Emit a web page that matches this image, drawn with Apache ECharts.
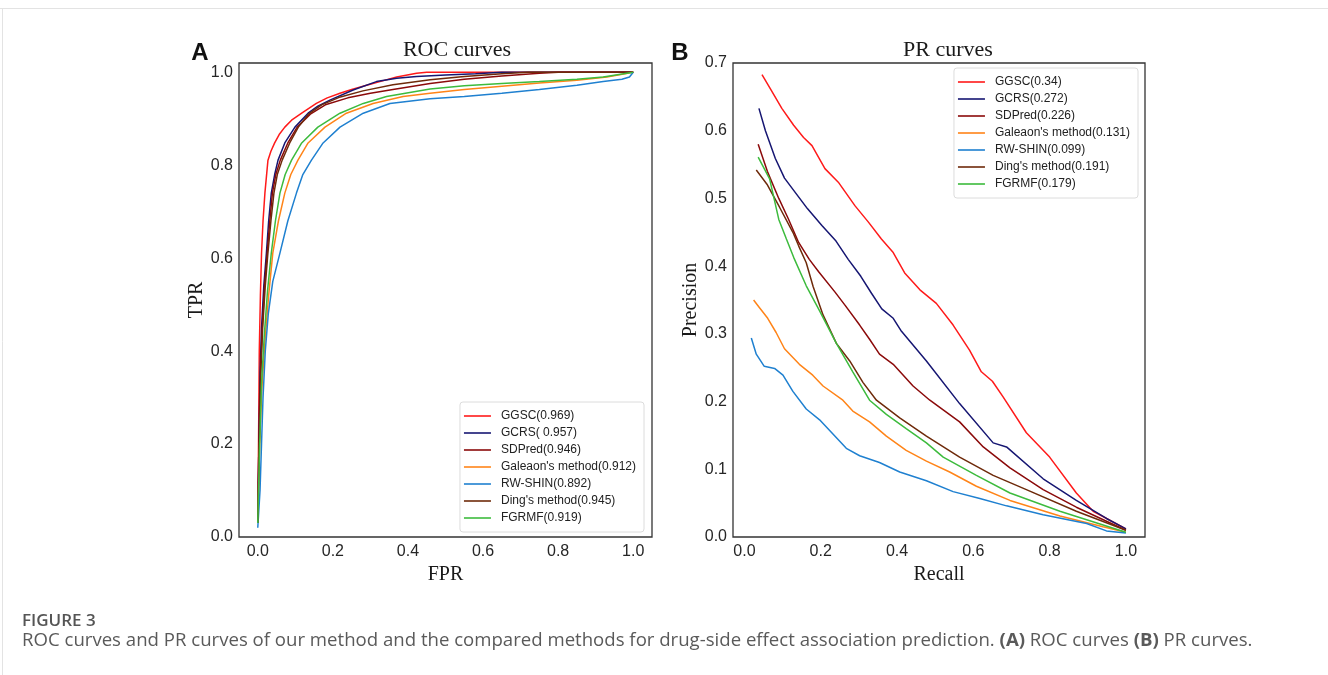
<!DOCTYPE html>
<html>
<head>
<meta charset="utf-8">
<title>ROC and PR curves</title>
<script src="https://cdn.jsdelivr.net/npm/echarts@6/dist/echarts.min.js"></script>
<style>
  html, body { margin: 0; padding: 0; background: #fff; }
  #main { width: 1328px; height: 675px; }
</style>
</head>
<body>
<div id="main"></div>
<script>
// ROC curves: [FPR, TPR]
var rocGGSC = [[0,0.03],[0.002,0.2],[0.004,0.4],[0.007,0.52],[0.01,0.61],[0.014,0.68],[0.019,0.74],[0.027,0.81],[0.035,0.83],[0.045,0.848],[0.057,0.866],[0.072,0.882],[0.09,0.897],[0.117,0.912],[0.156,0.933],[0.185,0.945],[0.219,0.955],[0.25,0.963],[0.29,0.972],[0.33,0.981],[0.37,0.99],[0.423,0.998],[0.45,1.0],[1.0,1.0]];
var rocGCRS = [[0,0.03],[0.003,0.2],[0.006,0.35],[0.01,0.45],[0.016,0.54],[0.023,0.611],[0.029,0.68],[0.036,0.74],[0.045,0.78],[0.054,0.811],[0.072,0.848],[0.099,0.882],[0.134,0.912],[0.16,0.927],[0.192,0.94],[0.254,0.962],[0.316,0.98],[0.37,0.987],[0.423,0.991],[0.5,0.994],[0.58,0.997],[0.65,1.0],[1,1]];
var rocSDPred = [[0,0.03],[0.003,0.2],[0.007,0.35],[0.012,0.45],[0.018,0.54],[0.025,0.611],[0.032,0.68],[0.039,0.74],[0.048,0.78],[0.06,0.811],[0.08,0.848],[0.105,0.882],[0.14,0.91],[0.18,0.93],[0.24,0.945],[0.3,0.955],[0.36,0.963],[0.459,0.976],[0.55,0.985],[0.65,0.992],[0.75,0.998],[0.8,1.0],[1,1]];
var rocGaleaon = [[0,0.03],[0.005,0.2],[0.011,0.32],[0.019,0.42],[0.029,0.52],[0.04,0.611],[0.055,0.68],[0.072,0.74],[0.088,0.78],[0.107,0.811],[0.134,0.848],[0.179,0.882],[0.236,0.912],[0.307,0.933],[0.387,0.948],[0.459,0.955],[0.55,0.963],[0.65,0.97],[0.75,0.977],[0.85,0.983],[0.93,0.99],[1,1]];
var rocRWSHIN = [[0,0.02],[0.006,0.1],[0.01,0.2],[0.014,0.3],[0.02,0.4],[0.028,0.48],[0.04,0.55],[0.059,0.611],[0.08,0.68],[0.103,0.74],[0.12,0.78],[0.143,0.811],[0.174,0.848],[0.219,0.882],[0.281,0.912],[0.352,0.933],[0.459,0.943],[0.55,0.948],[0.65,0.955],[0.75,0.963],[0.85,0.972],[0.92,0.98],[0.97,0.985],[0.99,0.99],[1,1]];
var rocDing = [[0,0.03],[0.004,0.2],[0.008,0.35],[0.013,0.45],[0.02,0.54],[0.027,0.611],[0.035,0.68],[0.043,0.74],[0.052,0.78],[0.065,0.811],[0.085,0.848],[0.108,0.882],[0.135,0.91],[0.17,0.93],[0.22,0.947],[0.28,0.96],[0.36,0.973],[0.459,0.984],[0.55,0.991],[0.65,0.997],[0.72,1.0],[1,1]];
var rocFGRMF = [[0,0.03],[0.005,0.2],[0.01,0.33],[0.017,0.43],[0.026,0.53],[0.036,0.611],[0.047,0.68],[0.059,0.74],[0.073,0.78],[0.09,0.811],[0.117,0.848],[0.16,0.882],[0.219,0.912],[0.281,0.933],[0.343,0.948],[0.459,0.964],[0.55,0.971],[0.65,0.976],[0.75,0.98],[0.85,0.985],[0.92,0.99],[1,1]];

// PR curves: [Recall, Precision]
var prGGSC = [[0.046,0.683],[0.07,0.66],[0.098,0.633],[0.129,0.608],[0.155,0.59],[0.177,0.578],[0.211,0.544],[0.246,0.524],[0.29,0.489],[0.325,0.465],[0.359,0.44],[0.39,0.42],[0.42,0.39],[0.46,0.365],[0.503,0.345],[0.547,0.313],[0.59,0.276],[0.621,0.244],[0.65,0.23],[0.678,0.207],[0.739,0.154],[0.8,0.118],[0.87,0.065],[0.914,0.038],[1.0,0.012]];
var prGCRS = [[0.038,0.633],[0.055,0.6],[0.081,0.559],[0.105,0.53],[0.133,0.509],[0.165,0.485],[0.203,0.46],[0.24,0.437],[0.272,0.41],[0.305,0.385],[0.333,0.36],[0.36,0.337],[0.39,0.323],[0.41,0.305],[0.477,0.26],[0.564,0.197],[0.652,0.139],[0.687,0.133],[0.783,0.086],[0.87,0.054],[0.95,0.027],[1.0,0.012]];
var prSDPred = [[0.036,0.58],[0.06,0.54],[0.09,0.5],[0.115,0.47],[0.142,0.435],[0.17,0.41],[0.194,0.392],[0.237,0.362],[0.264,0.342],[0.302,0.313],[0.328,0.292],[0.354,0.27],[0.39,0.255],[0.442,0.223],[0.486,0.202],[0.564,0.17],[0.626,0.133],[0.696,0.102],[0.783,0.07],[0.87,0.044],[1.0,0.01]];
var prGaleaon = [[0.024,0.35],[0.039,0.339],[0.061,0.323],[0.083,0.302],[0.105,0.278],[0.144,0.255],[0.179,0.239],[0.206,0.223],[0.258,0.202],[0.284,0.186],[0.328,0.17],[0.372,0.149],[0.424,0.128],[0.477,0.112],[0.538,0.096],[0.608,0.075],[0.696,0.054],[0.827,0.031],[0.94,0.015],[1.0,0.007]];
var prRWSHIN = [[0.018,0.294],[0.031,0.27],[0.052,0.252],[0.079,0.249],[0.101,0.239],[0.127,0.215],[0.162,0.189],[0.197,0.173],[0.232,0.152],[0.267,0.131],[0.302,0.12],[0.354,0.11],[0.407,0.096],[0.477,0.083],[0.547,0.067],[0.617,0.057],[0.687,0.046],[0.783,0.033],[0.897,0.02],[0.949,0.009],[1.0,0.006]];
var prDing = [[0.031,0.542],[0.059,0.521],[0.092,0.487],[0.127,0.45],[0.142,0.43],[0.162,0.405],[0.18,0.37],[0.206,0.328],[0.241,0.286],[0.276,0.26],[0.311,0.228],[0.346,0.202],[0.407,0.176],[0.477,0.149],[0.564,0.118],[0.652,0.091],[0.739,0.07],[0.87,0.038],[1.0,0.01]];
var prFGRMF = [[0.036,0.561],[0.066,0.529],[0.09,0.469],[0.11,0.44],[0.129,0.413],[0.162,0.371],[0.197,0.334],[0.241,0.286],[0.284,0.244],[0.328,0.202],[0.372,0.181],[0.424,0.16],[0.477,0.139],[0.521,0.118],[0.608,0.091],[0.696,0.065],[0.827,0.038],[1.0,0.007]];

var methodColors = ['#ff1a1a', '#161672', '#8b0a0a', '#ff8418', '#1f80d0', '#6e2a0a', '#3dbb3d'];
var rocNames = ['GGSC(0.969)', 'GCRS( 0.957)', 'SDPred(0.946)', "Galeaon's method(0.912)", 'RW-SHIN(0.892)', "Ding's method(0.945)", 'FGRMF(0.919)'];
var prNames = ['GGSC(0.34)', 'GCRS(0.272)', 'SDPred(0.226)', "Galeaon's method(0.131)", 'RW-SHIN(0.099)', "Ding's method(0.191)", 'FGRMF(0.179)'];
var rocData = [rocGGSC, rocGCRS, rocSDPred, rocGaleaon, rocRWSHIN, rocDing, rocFGRMF];
var prData = [prGGSC, prGCRS, prSDPred, prGaleaon, prRWSHIN, prDing, prFGRMF];
var tickVals = [0, 0.2, 0.4, 0.6, 0.8, 1.0];

var chart = echarts.init(document.getElementById('main'));

var labelStyle = {
  fontFamily: 'Liberation Sans', fontSize: 16, color: '#262626',
  formatter: function (v) { return Number(v).toFixed(1); }
};
var nameStyle = { fontFamily: 'Liberation Serif', fontSize: 20, color: '#1a1a1a' };

function axisBase(extra) {
  var a = {
    type: 'value',
    splitLine: { show: false },
    axisLine: { show: false },
    axisTick: { show: false },
    nameLocation: 'middle',
    nameTextStyle: nameStyle
  };
  for (var k in extra) a[k] = extra[k];
  return a;
}

var series = [];
rocData.forEach(function (d, i) {
  series.push({
    name: rocNames[i], type: 'line', xAxisIndex: 0, yAxisIndex: 0,
    data: d, symbol: 'none', color: methodColors[i],
    lineStyle: { width: 1.5, color: methodColors[i] }, silent: true
  });
});
prData.forEach(function (d, i) {
  series.push({
    name: prNames[i], type: 'line', xAxisIndex: 1, yAxisIndex: 1,
    data: d, symbol: 'none', color: methodColors[i],
    lineStyle: { width: 1.5, color: methodColors[i] }, silent: true
  });
});

// legend entries are drawn as plain line samples
var legendBase = {
  orient: 'vertical',
  selectedMode: false,
  icon: 'path://M0,0H27V1.6H0Z',
  backgroundColor: '#fff',
  borderColor: '#dcdcdc',
  borderWidth: 1,
  borderRadius: 3,
  padding: [8, 8, 8, 4],
  itemWidth: 27,
  itemHeight: 14,
  itemGap: 5,
  textStyle: { fontFamily: 'Liberation Sans', fontSize: 12, color: '#222', padding: [0, 0, 0, 5] }
};

chart.setOption({
  backgroundColor: '#fff',
  animation: false,
  grid: [
    { left: 239, top: 63, width: 413, height: 474, show: true, borderColor: '#333', borderWidth: 1.3, backgroundColor: 'transparent' },
    { left: 733, top: 63, width: 412, height: 474, show: true, borderColor: '#333', borderWidth: 1.3, backgroundColor: 'transparent' }
  ],
  xAxis: [
    axisBase({ gridIndex: 0, min: -0.05, max: 1.05, name: 'FPR', nameGap: 24,
      axisLabel: Object.assign({ margin: 7, customValues: tickVals }, labelStyle) }),
    axisBase({ gridIndex: 1, min: -0.03, max: 1.05, name: 'Recall', nameGap: 24,
      axisLabel: Object.assign({ margin: 7, customValues: tickVals }, labelStyle) })
  ],
  yAxis: [
    axisBase({ gridIndex: 0, min: 0, max: 1.02, name: 'TPR', nameGap: 31,
      axisLabel: Object.assign({ margin: 6, customValues: tickVals }, labelStyle) }),
    axisBase({ gridIndex: 1, min: 0, max: 0.7, interval: 0.1, name: 'Precision', nameGap: 32,
      axisLabel: Object.assign({ margin: 6 }, labelStyle) })
  ],
  legend: [
    Object.assign({ data: rocNames, right: 684, bottom: 143 }, legendBase),
    Object.assign({ data: prNames, right: 190, top: 68 }, legendBase)
  ],
  graphic: [
    { type: 'line', shape: { x1: 0, y1: 8.5, x2: 1328, y2: 8.5 }, style: { stroke: '#e3e3e3', lineWidth: 1 }, silent: true },
    { type: 'line', shape: { x1: 2.5, y1: 8, x2: 2.5, y2: 675 }, style: { stroke: '#e3e3e3', lineWidth: 1 }, silent: true },
    { type: 'text', x: 200, y: 53, style: { text: 'A', fontFamily: 'Liberation Sans', fontWeight: 'bold', fontSize: 24, fill: '#111', align: 'center', verticalAlign: 'middle' } },
    { type: 'text', x: 680, y: 53, style: { text: 'B', fontFamily: 'Liberation Sans', fontWeight: 'bold', fontSize: 24, fill: '#111', align: 'center', verticalAlign: 'middle' } },
    { type: 'text', x: 457, y: 50, style: { text: 'ROC curves', fontFamily: 'Liberation Serif', fontSize: 22, fill: '#1a1a1a', align: 'center', verticalAlign: 'middle' } },
    { type: 'text', x: 948, y: 50, style: { text: 'PR curves', fontFamily: 'Liberation Serif', fontSize: 22, fill: '#1a1a1a', align: 'center', verticalAlign: 'middle' } },
    { type: 'text', x: 22, y: 621, style: { text: 'FIGURE 3', fontFamily: 'Open Sans', fontWeight: 600, fontSize: 17, fill: '#555', verticalAlign: 'middle' } },
    { type: 'text', x: 22, y: 641, style: {
      text: '{n|ROC curves and PR curves of our method and the compared methods for drug-side effect association prediction. }{b|(A)}{n| ROC curves }{b|(B)}{n| PR curves.}',
      verticalAlign: 'middle',
      rich: {
        n: { fontFamily: 'Open Sans', fontSize: 18.6, fill: '#5a5a5a' },
        b: { fontFamily: 'Open Sans', fontSize: 18.6, fontWeight: 'bold', fill: '#5a5a5a' }
      }
    } }
  ],
  series: series
});
</script>
</body>
</html>
